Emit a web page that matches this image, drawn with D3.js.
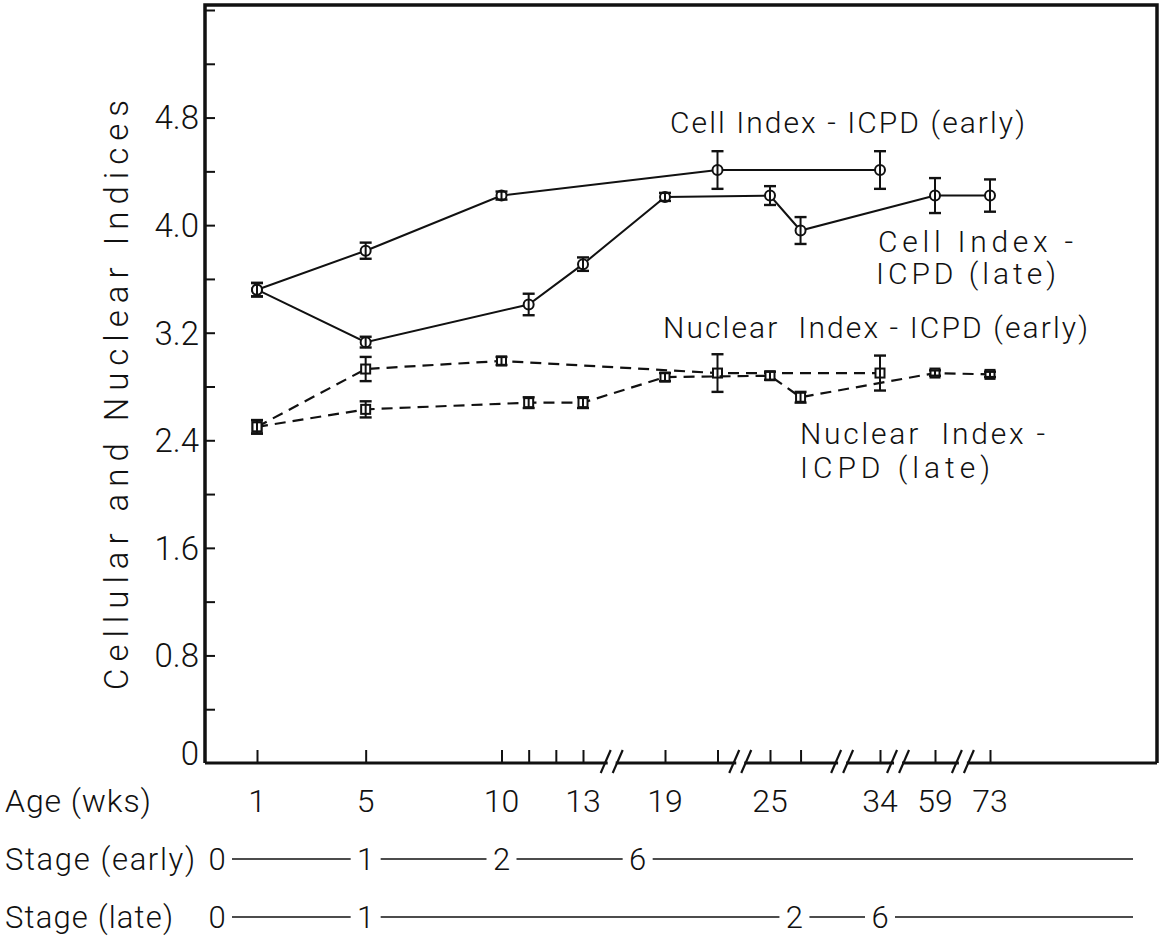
<!DOCTYPE html>
<html>
<head>
<meta charset="utf-8">
<script src="https://cdn.jsdelivr.net/npm/d3@7"></script>
<style>
  html, body { margin: 0; padding: 0; background: #fff; }
  svg text { font-family: Roboto, "Liberation Sans", sans-serif; font-weight: 300; fill: #111; }
</style>
</head>
<body>
<svg id="chart" width="1162" height="949"></svg>
<script>
// Measurements: age in weeks, index value, and half-length of the error bar
const cellEarlyAge = [1, 5, 10, 22, 34];
const cellEarlyVal = [3.52, 3.81, 4.22, 4.41, 4.41];
const cellEarlyErr = [0.05, 0.06, 0.03, 0.14, 0.14];

const cellLateAge = [1, 5, 11, 13, 19, 25, 27.5, 59, 73];
const cellLateVal = [3.52, 3.13, 3.41, 3.71, 4.21, 4.22, 3.96, 4.22, 4.22];
const cellLateErr = [0.05, 0.04, 0.08, 0.05, 0.03, 0.07, 0.10, 0.13, 0.12];

const nucEarlyAge = [1, 5, 10, 22, 34];
const nucEarlyVal = [2.50, 2.93, 2.99, 2.90, 2.90];
const nucEarlyErr = [0.05, 0.09, 0.03, 0.14, 0.13];

const nucLateAge = [1, 5, 11, 13, 19, 25, 27.5, 59, 73];
const nucLateVal = [2.50, 2.63, 2.68, 2.68, 2.87, 2.88, 2.72, 2.90, 2.89];
const nucLateErr = [0.05, 0.06, 0.04, 0.04, 0.03, 0.03, 0.04, 0.02, 0.02];

// Axis ticks and labels
const yLabelValues = [0, 0.8, 1.6, 2.4, 3.2, 4.0, 4.8];
const yLabelText = ["0", "0.8", "1.6", "2.4", "3.2", "4.0", "4.8"];
const ageLabels = [1, 5, 10, 13, 19, 25, 34, 59, 73];
const ageTickMarks = [1, 5, 10, 11, 12, 13, 19, 22, 25, 27.5, 34, 59, 73];
const axisBreakAges = [15.1, 23.3, 30.9, 42.2, 66.1];

// Stage rows under the age axis
const stageEarlyLabels = ["0", "1", "2", "6"];
const stageEarlyAges = [5, 10, 17];
const stageLateLabels = ["0", "1", "2", "6"];
const stageLateAges = [5, 27, 34];

// ---- layout ----
const svg = d3.select("#chart");
const frame = { left: 205, right: 1157, top: 5, bottom: 763 };

const y = d3.scaleLinear().domain([0, 5.6]).range([frame.bottom, 10]);
// broken age axis: piecewise-linear between the labelled ages
const x = d3.scaleLinear()
  .domain([1, 13, 19, 25, 34, 59, 73])
  .range([257, 583, 665, 770, 880, 935, 990]);

const ink = "#111";

// frame (top and right borders) and left axis
svg.append("path")
  .attr("d", `M${frame.left},${frame.bottom} V${frame.top} H${frame.right} V${frame.bottom}`)
  .attr("fill", "none").attr("stroke", ink).attr("stroke-width", 3.5);

// y axis ticks, pointing into the plot
const yAxis = d3.axisRight(y)
  .tickValues(d3.range(1, 15).map(i => i * 0.4))
  .tickSize(10)
  .tickFormat("");
const yAxisG = svg.append("g").attr("transform", `translate(${frame.left},0)`).call(yAxis);
yAxisG.select(".domain").remove();
yAxisG.selectAll(".tick line").attr("stroke", ink).attr("stroke-width", 2);

// y tick labels (the zero sits a little higher, clear of the age axis)
svg.append("g").selectAll("text")
  .data(yLabelValues)
  .join("text")
  .attr("x", 199)
  .attr("y", d => y(d) - (d === 0 ? 10 : 0))
  .attr("dy", "0.36em")
  .attr("text-anchor", "end")
  .attr("font-size", 33)
  .text((d, i) => yLabelText[i]);

// y axis title
svg.append("text")
  .attr("transform", `translate(128,395) rotate(-90)`)
  .attr("text-anchor", "middle")
  .attr("font-size", 33)
  .attr("textLength", 590)
  .attr("lengthAdjust", "spacing")
  .text("Cellular and Nuclear Indices");

// x axis line
svg.append("line")
  .attr("x1", frame.left).attr("x2", frame.right)
  .attr("y1", frame.bottom).attr("y2", frame.bottom)
  .attr("stroke", ink).attr("stroke-width", 3);

// x axis ticks
const xAxis = d3.axisTop(x).tickValues(ageTickMarks).tickSize(13).tickFormat("");
const xAxisG = svg.append("g").attr("transform", `translate(0,${frame.bottom})`).call(xAxis);
xAxisG.select(".domain").remove();
xAxisG.selectAll(".tick line").attr("stroke", ink).attr("stroke-width", 2);

// axis breaks: a gap in the line with a pair of slashes
const breaks = svg.append("g").selectAll("g").data(axisBreakAges).join("g")
  .attr("transform", d => `translate(${x(d)},${frame.bottom})`);
breaks.append("rect").attr("x", -4).attr("y", -3).attr("width", 8).attr("height", 6).attr("fill", "#fff");
[-6, 6].forEach(off => {
  breaks.append("line")
    .attr("x1", off - 5).attr("y1", 10)
    .attr("x2", off + 5).attr("y2", -13)
    .attr("stroke", ink).attr("stroke-width", 2.2);
});

// age labels
svg.append("text").attr("x", 5).attr("y", 812).attr("font-size", 32)
  .attr("textLength", 146).attr("lengthAdjust", "spacing").text("Age (wks)");
svg.append("g").selectAll("text").data(ageLabels).join("text")
  .attr("x", d => x(d)).attr("y", 812)
  .attr("text-anchor", "middle").attr("font-size", 32)
  .text(d => d);

// ---- series ----
function series(ages, vals, errs, dashed, marker) {
  const pts = ages.map((a, i) => ({ a, v: vals[i], e: errs[i] }));
  const g = svg.append("g");
  g.append("path")
    .datum(pts)
    .attr("d", d3.line().x(d => x(d.a)).y(d => y(d.v)))
    .attr("fill", "none").attr("stroke", ink)
    .attr("stroke-width", dashed ? 2.2 : 2)
    .attr("stroke-dasharray", dashed ? "11,7" : null);

  const m = g.selectAll("g.pt").data(pts).join("g").attr("class", "pt")
    .attr("transform", d => `translate(${x(d.a)},${y(d.v)})`);
  if (marker === "circle") {
    m.append("circle").attr("r", 5).attr("fill", "#fff").attr("stroke", ink).attr("stroke-width", 2);
  } else {
    m.append("rect").attr("x", -4.5).attr("y", -4.5).attr("width", 9).attr("height", 9)
      .attr("fill", "#fff").attr("stroke", ink).attr("stroke-width", 2);
  }
  // error bars
  m.append("line").attr("x1", 0).attr("x2", 0)
    .attr("y1", d => y(d.v + d.e) - y(d.v)).attr("y2", d => y(d.v - d.e) - y(d.v))
    .attr("stroke", ink).attr("stroke-width", 2);
  [1, -1].forEach(s => {
    m.append("line").attr("x1", -6).attr("x2", 6)
      .attr("y1", d => y(d.v + s * d.e) - y(d.v)).attr("y2", d => y(d.v + s * d.e) - y(d.v))
      .attr("stroke", ink).attr("stroke-width", 2.4);
  });
}

series(nucEarlyAge, nucEarlyVal, nucEarlyErr, true, "square");
series(nucLateAge, nucLateVal, nucLateErr, true, "square");
series(cellEarlyAge, cellEarlyVal, cellEarlyErr, false, "circle");
series(cellLateAge, cellLateVal, cellLateErr, false, "circle");

// ---- series labels ----
const notes = [
  { t: "Cell Index - ICPD (early)", x: 670, y: 133, w: 355 },
  { t: "Cell Index -", x: 878, y: 252, w: 195 },
  { t: "ICPD (late)", x: 876, y: 284, w: 180 },
  { t: "Nuclear  Index - ICPD (early)", x: 663, y: 338, w: 425 },
  { t: "Nuclear  Index -", x: 800, y: 444, w: 245 },
  { t: "ICPD (late)", x: 800, y: 478, w: 190 }
];
svg.append("g").selectAll("text").data(notes).join("text")
  .attr("x", d => d.x).attr("y", d => d.y)
  .attr("font-size", 30)
  .attr("textLength", d => d.w).attr("lengthAdjust", "spacing")
  .attr("xml:space", "preserve")
  .text(d => d.t);

// ---- stage rows ----
function stageRow(title, titleW, labels, ages, baseline) {
  const g = svg.append("g");
  g.append("text").attr("x", 5).attr("y", baseline).attr("font-size", 31)
    .attr("textLength", titleW).attr("lengthAdjust", "spacing").text(title);
  const xs = [217].concat(ages.map(a => x(a)));
  const half = 9;
  g.selectAll("text.st").data(labels).join("text").attr("class", "st")
    .attr("x", (d, i) => xs[i]).attr("y", baseline)
    .attr("text-anchor", "middle").attr("font-size", 31)
    .text(d => d);
  const segs = xs.map((p, i) => [p + half + 6, i < xs.length - 1 ? xs[i + 1] - half - 6 : 1133]);
  g.selectAll("line").data(segs).join("line")
    .attr("x1", d => d[0]).attr("x2", d => d[1])
    .attr("y1", baseline - 11).attr("y2", baseline - 11)
    .attr("stroke", ink).attr("stroke-width", 1.6);
}
stageRow("Stage (early)", 190, stageEarlyLabels, stageEarlyAges, 870);
stageRow("Stage (late)", 168, stageLateLabels, stageLateAges, 928);
</script>
</body>
</html>
